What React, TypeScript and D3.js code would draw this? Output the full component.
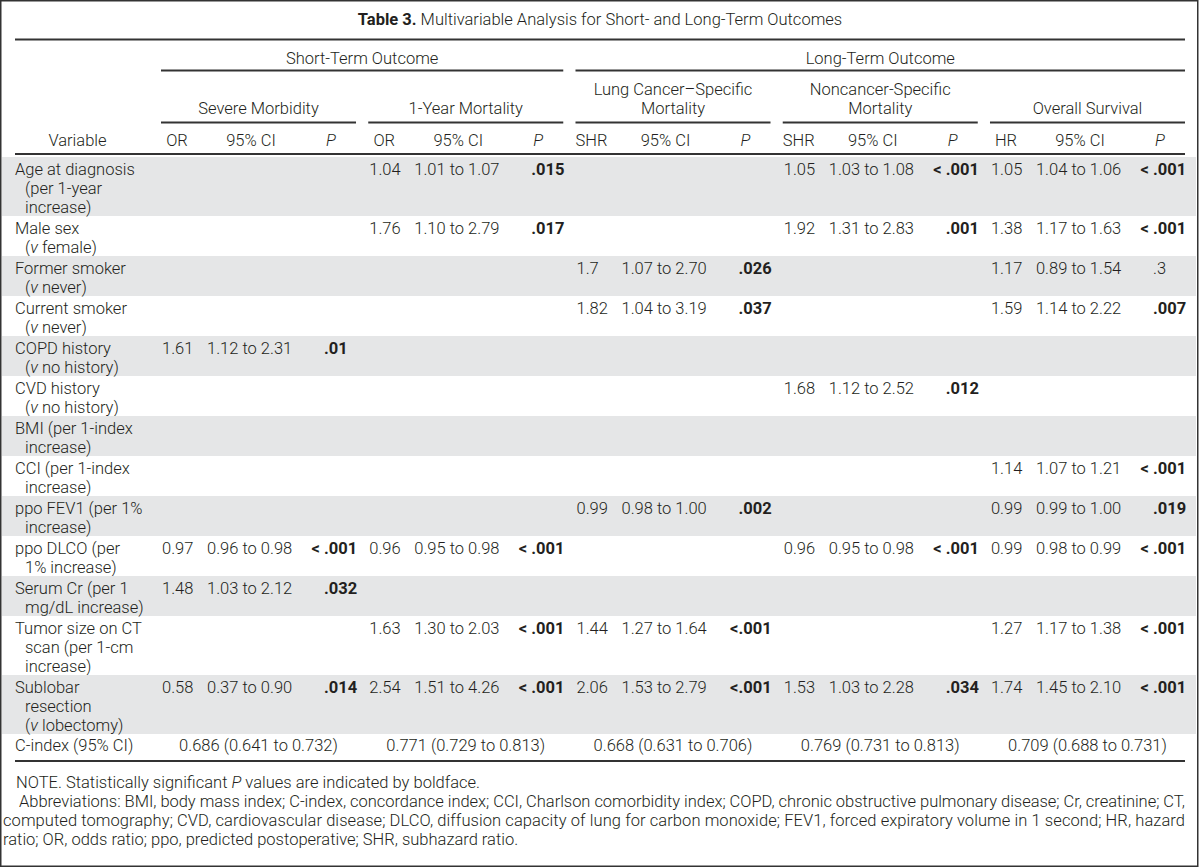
import React from "react";
import * as d3 from "d3";

type Cell = [string, string, string, boolean] | null;

const titleBold = "Table 3.";
const titleRest = " Multivariable Analysis for Short- and Long-Term Outcomes";
const outcomeGroups = ["Short-Term Outcome", "Long-Term Outcome"];
const outcomeSpans: [number, number][] = [[0, 1], [2, 4]];
const subgroups = [["Severe Morbidity"], ["1-Year Mortality"], ["Lung Cancer\u2013Specific", "Mortality"], ["Noncancer-Specific", "Mortality"], ["Overall Survival"]];
const estimateLabels = ["OR", "OR", "SHR", "SHR", "HR"];
const variableLabels: string[][] = [
  ["Age at diagnosis", "(per 1-year", "increase)"],
  ["Male sex", "(v female)"],
  ["Former smoker", "(v never)"],
  ["Current smoker", "(v never)"],
  ["COPD history", "(v no history)"],
  ["CVD history", "(v no history)"],
  ["BMI (per 1-index", "increase)"],
  ["CCI (per 1-index", "increase)"],
  ["ppo FEV1 (per 1%", "increase)"],
  ["ppo DLCO (per", "1% increase)"],
  ["Serum Cr (per 1", "mg/dL increase)"],
  ["Tumor size on CT", "scan (per 1-cm", "increase)"],
  ["Sublobar", "resection", "(v lobectomy)"],
];
const severeMorbidity: Cell[] = [null, null, null, null, ["1.61", "1.12 to 2.31", ".01", true], null, null, null, null, ["0.97", "0.96 to 0.98", "< .001", true], ["1.48", "1.03 to 2.12", ".032", true], null, ["0.58", "0.37 to 0.90", ".014", true]];
const oneYearMortality: Cell[] = [["1.04", "1.01 to 1.07", ".015", true], ["1.76", "1.10 to 2.79", ".017", true], null, null, null, null, null, null, null, ["0.96", "0.95 to 0.98", "< .001", true], null, ["1.63", "1.30 to 2.03", "< .001", true], ["2.54", "1.51 to 4.26", "< .001", true]];
const lungCancerMortality: Cell[] = [null, null, ["1.7", "1.07 to 2.70", ".026", true], ["1.82", "1.04 to 3.19", ".037", true], null, null, null, null, ["0.99", "0.98 to 1.00", ".002", true], null, null, ["1.44", "1.27 to 1.64", "<.001", true], ["2.06", "1.53 to 2.79", "<.001", true]];
const noncancerMortality: Cell[] = [["1.05", "1.03 to 1.08", "< .001", true], ["1.92", "1.31 to 2.83", ".001", true], null, null, null, ["1.68", "1.12 to 2.52", ".012", true], null, null, null, ["0.96", "0.95 to 0.98", "< .001", true], null, null, ["1.53", "1.03 to 2.28", ".034", true]];
const overallSurvival: Cell[] = [["1.05", "1.04 to 1.06", "< .001", true], ["1.38", "1.17 to 1.63", "< .001", true], ["1.17", "0.89 to 1.54", ".3", false], ["1.59", "1.14 to 2.22", ".007", true], null, null, null, ["1.14", "1.07 to 1.21", "< .001", true], ["0.99", "0.99 to 1.00", ".019", true], ["0.99", "0.98 to 0.99", "< .001", true], null, ["1.27", "1.17 to 1.38", "< .001", true], ["1.74", "1.45 to 2.10", "< .001", true]];
const cIndexLabel = "C-index (95% CI)";
const cIndexValues = ["0.686 (0.641 to 0.732)", "0.771 (0.729 to 0.813)", "0.668 (0.631 to 0.706)", "0.769 (0.731 to 0.813)", "0.709 (0.688 to 0.731)"];
const noteParts = ["NOTE. Statistically significant ", "P", " values are indicated by boldface."];
const abbreviationLines = [
  "Abbreviations: BMI, body mass index; C-index, concordance index; CCI, Charlson comorbidity index; COPD, chronic obstructive pulmonary disease; Cr, creatinine; CT,",
  "computed tomography; CVD, cardiovascular disease; DLCO, diffusion capacity of lung for carbon monoxide; FEV1, forced expiratory volume in 1 second; HR, hazard",
  "ratio; OR, odds ratio; ppo, predicted postoperative; SHR, subhazard ratio.",
];

const groupData = [severeMorbidity, oneYearMortality, lungCancerMortality, noncancerMortality, overallSurvival];

const W = 1200;
const H = 868;
const FONT = "Roboto, 'Liberation Sans', Arial, sans-serif";
const FS = 16.5;
const TXT = "#231f20";
const BAND = "#e5e6e7";
const RULE = "#333";
const LEFT = 15;
const RIGHT = 1185;
const LINE = 19;

function VarLine({ s, x, y }: { s: string; x: number; y: number }) {
  if (s.startsWith("(v ")) {
    return (
      <text x={x} y={y}>
        (<tspan fontStyle="italic">v</tspan>
        {s.slice(2)}
      </text>
    );
  }
  return (
    <text x={x} y={y}>
      {s}
    </text>
  );
}

export default function App() {
  const gx = d3.scaleBand<number>().domain(d3.range(5)).range([161, RIGHT]).paddingInner(0.059);
  const bw = gx.bandwidth();

  const rowHeights = variableLabels.map((l) => l.length * LINE + 2);
  const firstTop = 157;
  const tops: number[] = [];
  let acc = firstTop;
  rowHeights.forEach((h) => {
    tops.push(acc);
    acc += h;
  });
  const cTop = acc;
  const cH = 22;
  const bottomRule = cTop + cH + 5;

  const estX = (g: number) => (gx(g) as number) + 1;
  const estHX = (g: number) => (gx(g) as number) + 16;
  const ciX = (g: number) => (gx(g) as number) + 46;
  const ciHX = (g: number) => (gx(g) as number) + 90;
  const pX = (g: number) => (gx(g) as number) + 163;
  const pHX = (g: number) => (gx(g) as number) + 170;
  const gC = (g: number) => (gx(g) as number) + bw / 2;

  return (
    <svg
      width={W}
      height={H}
      style={{ position: "absolute", left: 0, top: 0, background: "#fff" }}
      fontFamily={FONT}
      fontSize={FS}
      fontWeight={300}
      fill={TXT}
    >
      <rect x={0} y={0} width={W} height={H} fill="#fff" />
      <text x={W / 2} y={25} textAnchor="middle" fontSize={16.5}>
        <tspan fontWeight={700}>{titleBold}</tspan>
        {titleRest}
      </text>
      <line x1={LEFT} x2={RIGHT} y1={39.5} y2={39.5} stroke={RULE} strokeWidth={2} />

      {outcomeGroups.map((g, i) => {
        const [a, b] = outcomeSpans[i];
        const x1 = gx(a) as number;
        const x2 = (gx(b) as number) + bw;
        return (
          <g key={g}>
            <text x={(x1 + x2) / 2} y={64} textAnchor="middle">
              {g}
            </text>
            <line x1={x1} x2={x2} y1={70.5} y2={70.5} stroke={RULE} strokeWidth={2} />
          </g>
        );
      })}

      {subgroups.map((lines, g) => (
        <g key={"sg" + g}>
          {lines.map((l, j) => (
            <text key={j} x={gC(g)} y={114 - (lines.length - 1 - j) * LINE} textAnchor="middle">
              {l}
            </text>
          ))}
          <line x1={gx(g) as number} x2={(gx(g) as number) + bw} y1={122.5} y2={122.5} stroke={RULE} strokeWidth={2} />
        </g>
      ))}

      <text x={(LEFT + 140) / 2} y={146} textAnchor="middle">
        Variable
      </text>
      {estimateLabels.map((lab, g) => (
        <g key={"ch" + g}>
          <text x={estHX(g)} y={146} textAnchor="middle">
            {lab}
          </text>
          <text x={ciHX(g)} y={146} textAnchor="middle">
            95% CI
          </text>
          <text x={pHX(g)} y={146} textAnchor="middle" fontStyle="italic">
            P
          </text>
        </g>
      ))}
      <line x1={LEFT} x2={RIGHT} y1={154} y2={154} stroke={RULE} strokeWidth={2} />

      {variableLabels.map((lines, r) => {
        const top = tops[r];
        const base = top + 18;
        return (
          <g key={"row" + r}>
            {r % 2 === 0 && <rect x={2} y={top} width={1194} height={rowHeights[r]} fill={BAND} />}
            {lines.map((l, j) => (
              <VarLine key={j} s={l} x={j === 0 ? LEFT : LEFT + 10} y={base + j * LINE} />
            ))}
            {groupData.map((arr, g) => {
              const c = arr[r];
              if (!c) return null;
              const [est, ci, p, sig] = c;
              const dot = p.indexOf(".");
              const pre = p.slice(0, dot);
              const post = p.slice(dot);
              return (
                <g key={g}>
                  <text x={estX(g)} y={base}>
                    {est}
                  </text>
                  <text x={ciX(g)} y={base}>
                    {ci}
                  </text>
                  {pre && (
                    <text x={pX(g)} y={base} textAnchor="end" fontWeight={sig ? 700 : 300} style={{ whiteSpace: "pre" }}>
                      {pre}
                    </text>
                  )}
                  <text x={pX(g)} y={base} fontWeight={sig ? 700 : 300}>
                    {post}
                  </text>
                </g>
              );
            })}
          </g>
        );
      })}

      <text x={LEFT} y={cTop + 17}>
        {cIndexLabel}
      </text>
      {cIndexValues.map((v, g) => (
        <text key={"ci" + g} x={gC(g)} y={cTop + 17} textAnchor="middle">
          {v}
        </text>
      ))}
      <line x1={LEFT} x2={RIGHT} y1={bottomRule} y2={bottomRule} stroke={RULE} strokeWidth={2} />

      <text x={LEFT + 1} y={bottomRule + 27}>
        {noteParts[0]}
        <tspan fontStyle="italic">{noteParts[1]}</tspan>
        {noteParts[2]}
      </text>
      {abbreviationLines.map((l, i) => {
        const x = i === 0 ? LEFT + 4 : 3;
        const justify = i < abbreviationLines.length - 1;
        return (
          <text
            key={"ab" + i}
            x={x}
            y={bottomRule + 46 + i * LINE}
            {...(justify ? { textLength: RIGHT - x, lengthAdjust: "spacing" } : {})}
          >
            {l}
          </text>
        );
      })}

      <rect x={0.75} y={0.75} width={W - 3} height={H - 2.5} fill="none" stroke="#333" strokeWidth={1.5} />
    </svg>
  );
}
